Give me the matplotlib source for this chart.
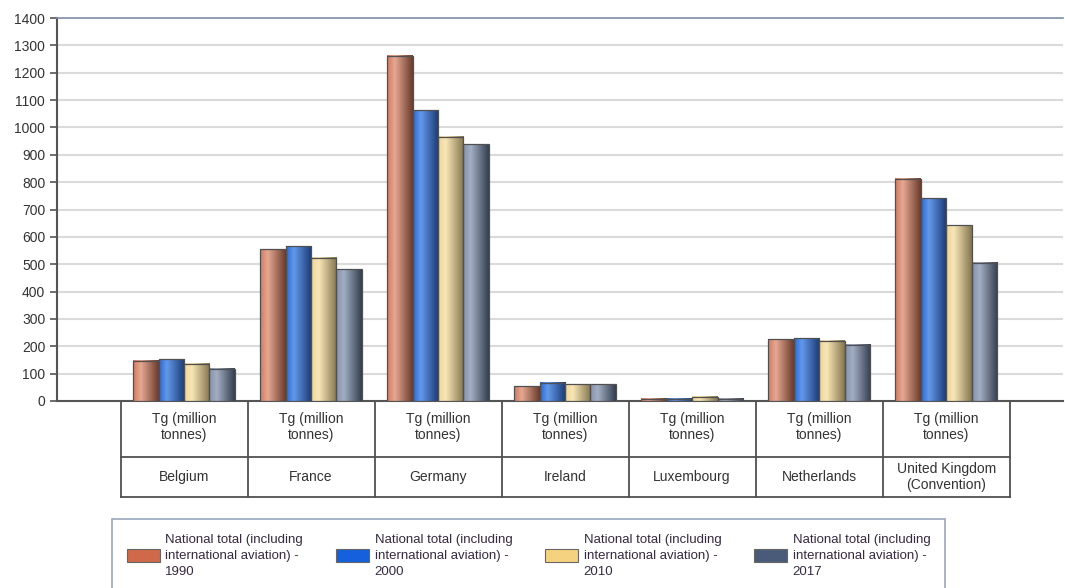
import numpy as np
import matplotlib
matplotlib.use("Agg")
import matplotlib.pyplot as plt
from matplotlib.colors import LinearSegmentedColormap
from matplotlib.patches import Patch

plt.rcParams["font.family"] = ["Liberation Sans", "DejaVu Sans"]

countries = ["Belgium", "France", "Germany", "Ireland", "Luxembourg",
             "Netherlands", "United Kingdom\n(Convention)"]
unit_label = "Tg (million\ntonnes)"
years = ["1990", "2000", "2010", "2017"]
v1990 = [148, 554, 1262, 54, 9, 225, 812]
v2000 = [153, 566, 1063, 67, 8, 229, 741]
v2010 = [137, 524, 966, 61, 15, 220, 642]
v2017 = [118, 482, 938, 61, 8, 205, 506]
series = [v1990, v2000, v2010, v2017]

legend_colors = ["#d0694a", "#1560dc", "#f5d27f", "#4a5b7a"]
# left edge, highlight, right edge of the shaded bars
gradients = [
    ["#d27a60", "#e6a892", "#6a3b2c"],
    ["#2a6ad6", "#6399ea", "#1a3a74"],
    ["#efd59a", "#f8e6b6", "#857650"],
    ["#8593ab", "#a2aec3", "#343e50"],
]

fig = plt.figure(figsize=(10.65, 5.88), dpi=100)
ax = fig.add_axes([57 / 1065, 1 - 401 / 588, (1063 - 57) / 1065, (401 - 18) / 588])

x = np.arange(len(countries))
width = 0.2
for k, vals in enumerate(series):
    bars = ax.bar(x + (k - 1.5) * width, vals, width, facecolor="none",
                  edgecolor="#505050", linewidth=0.9, zorder=4)
    cmap = LinearSegmentedColormap.from_list("g%d" % k, [(0, gradients[k][0]), (0.3, gradients[k][1]), (1, gradients[k][2])])
    grad = np.linspace(0, 1, 64).reshape(1, -1)
    for r in bars:
        x0, y0 = r.get_x(), r.get_y()
        ax.imshow(grad, cmap=cmap, aspect="auto", zorder=3, interpolation="bilinear",
                  extent=[x0, x0 + r.get_width(), y0, y0 + r.get_height()])

ax.set_xlim(-1.0, 6.92)
ax.set_ylim(0, 1400)
ax.set_yticks(np.arange(0, 1401, 100))
ax.set_xticks([])
ax.yaxis.grid(True, color="#dadada", linewidth=1.5)
ax.set_axisbelow(True)
ax.tick_params(axis="y", colors="#555555", labelcolor="#333333", labelsize=10, length=5, width=1.2)
ax.spines["right"].set_visible(False)
ax.spines["top"].set_color("#8090b0")
ax.spines["top"].set_linewidth(1.2)
for side in ["left", "bottom"]:
    ax.spines[side].set_color("#555555")
    ax.spines[side].set_linewidth(1.5)

# category table under the axis
trans = ax.get_xaxis_transform()
row1 = -56 / 383
row2 = -96 / 383
lc = "#505050"
for b in np.arange(len(countries) + 1) - 0.5:
    ax.plot([b, b], [0, row2], color=lc, lw=1.3, transform=trans, clip_on=False)
for yy in [row1, row2]:
    ax.plot([-0.5, len(countries) - 0.5], [yy, yy], color=lc, lw=1.3,
            transform=trans, clip_on=False)
for i, c in enumerate(countries):
    ax.text(i, row1 / 2 + 0.005, unit_label, transform=trans, ha="center", va="center",
            fontsize=10, color="#333333", linespacing=1.2)
    ax.text(i, (row1 + row2) / 2, c, transform=trans, ha="center", va="center",
            fontsize=10, color="#333333", linespacing=1.2)

handles = [Patch(facecolor=c, edgecolor="#666666", linewidth=0.8) for c in legend_colors]
labels = ["National total (including\ninternational aviation) -\n" + y for y in years]
leg = fig.legend(handles, labels, loc="upper left", ncol=4, mode="expand",
                 bbox_to_anchor=(112 / 1065, 1 - 519 / 588, 833 / 1065, 0.0),
                 prop={"size": 9.5},
                 frameon=True, fancybox=False, edgecolor="#8090a8",
                 handlelength=2.5, handleheight=1.1, handletextpad=0.45,
                 columnspacing=1.0, borderpad=1.1, borderaxespad=0.0,
                 labelspacing=0.0)
leg.get_frame().set_linewidth(1.2)
for t in leg.get_texts():
    t.set_color("#352a40")
    t.set_linespacing(1.45)

fig.savefig("out.png", dpi=100)
